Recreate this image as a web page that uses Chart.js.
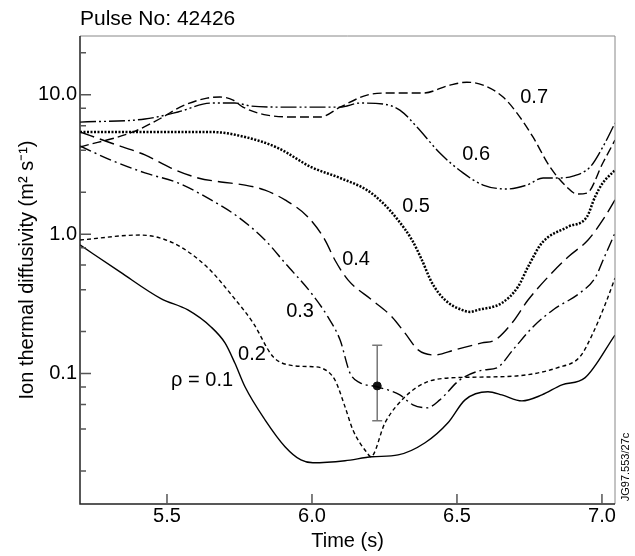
<!DOCTYPE html>
<html lang="en">
<head>
<meta charset="UTF-8">
<title>Ion thermal diffusivity - Pulse 42426</title>
<script src="https://cdn.jsdelivr.net/npm/chart.js"></script>
<style>
  body { margin: 0; background: #fff; }
  canvas { display: block; }
</style>
</head>
<body>
<canvas id="chiChart" width="635" height="556"></canvas>
<script>
// time (s) and chi_i (m^2/s), one pair of arrays per rho
var t01 = [5.200, 5.338, 5.479, 5.572, 5.652, 5.700, 5.734, 5.769, 5.838, 5.907, 5.962, 6.003, 6.114, 6.207, 6.297, 6.390, 6.469, 6.528, 6.607, 6.655, 6.724, 6.793, 6.862, 6.941, 7.045];
var c01 = [0.837, 0.536, 0.345, 0.286, 0.216, 0.166, 0.119, 0.0804, 0.0466, 0.0299, 0.0240, 0.0229, 0.0237, 0.0253, 0.0261, 0.0319, 0.0444, 0.0648, 0.0740, 0.0703, 0.0637, 0.0703, 0.0830, 0.0931, 0.189];

var t02 = [5.200, 5.407, 5.521, 5.638, 5.728, 5.797, 5.866, 5.924, 6.003, 6.031, 6.079, 6.114, 6.141, 6.190, 6.203, 6.252, 6.321, 6.390, 6.476, 6.614, 6.741, 6.845, 6.924, 6.969, 7.017, 7.045];
var c02 = [0.908, 0.986, 0.865, 0.582, 0.355, 0.231, 0.132, 0.115, 0.112, 0.110, 0.0901, 0.0577, 0.0395, 0.0270, 0.0253, 0.0444, 0.0681, 0.0859, 0.0931, 0.0946, 0.098, 0.110, 0.132, 0.195, 0.337, 0.485];

var t03 = [5.200, 5.307, 5.424, 5.538, 5.652, 5.745, 5.838, 5.907, 5.997, 6.055, 6.097, 6.131, 6.166, 6.224, 6.303, 6.348, 6.397, 6.441, 6.510, 6.590, 6.638, 6.693, 6.762, 6.831, 6.924, 6.976, 7.010, 7.045];
var c03 = [4.29, 3.40, 2.75, 2.33, 1.76, 1.33, 0.908, 0.621, 0.379, 0.255, 0.174, 0.101, 0.0859, 0.0804, 0.0703, 0.0597, 0.0568, 0.0648, 0.0901, 0.106, 0.110, 0.148, 0.216, 0.286, 0.379, 0.485, 0.698, 1.02];

var t04 = [5.200, 5.307, 5.424, 5.514, 5.607, 5.686, 5.769, 5.838, 5.907, 5.986, 6.045, 6.079, 6.124, 6.207, 6.276, 6.321, 6.366, 6.424, 6.493, 6.586, 6.631, 6.690, 6.745, 6.814, 6.883, 6.952, 7.010, 7.045];
var c04 = [5.41, 4.51, 3.70, 2.98, 2.53, 2.37, 2.25, 2.07, 1.76, 1.33, 0.908, 0.653, 0.470, 0.337, 0.255, 0.195, 0.148, 0.136, 0.148, 0.166, 0.174, 0.231, 0.337, 0.493, 0.686, 0.908, 1.33, 1.76];

var t05 = [5.200, 5.424, 5.652, 5.769, 5.883, 5.997, 6.097, 6.190, 6.245, 6.297, 6.345, 6.379, 6.414, 6.459, 6.517, 6.545, 6.572, 6.655, 6.710, 6.745, 6.793, 6.883, 6.948, 6.976, 7.003, 7.045];
var c05 = [5.41, 5.41, 5.41, 4.98, 4.15, 3.03, 2.53, 2.07, 1.67, 1.26, 0.908, 0.653, 0.447, 0.337, 0.286, 0.277, 0.286, 0.321, 0.418, 0.582, 0.865, 1.13, 1.33, 1.85, 2.33, 2.88];

var t06 = [5.200, 5.424, 5.538, 5.652, 5.734, 5.790, 5.883, 5.997, 6.097, 6.166, 6.245, 6.303, 6.362, 6.441, 6.521, 6.590, 6.672, 6.741, 6.797, 6.855, 6.900, 6.959, 7.003, 7.045];
var c06 = [6.37, 6.70, 7.52, 8.72, 8.72, 8.30, 8.16, 8.16, 8.16, 8.72, 8.58, 7.77, 5.87, 3.82, 2.75, 2.25, 2.11, 2.25, 2.53, 2.53, 2.61, 3.03, 4.22, 6.27];

var t07 = [5.200, 5.383, 5.486, 5.545, 5.638, 5.683, 5.728, 5.762, 5.845, 5.959, 6.028, 6.097, 6.190, 6.269, 6.383, 6.476, 6.534, 6.590, 6.659, 6.707, 6.762, 6.821, 6.879, 6.914, 6.948, 7.003, 7.045];
var c07 = [4.22, 5.41, 6.92, 8.16, 9.47, 9.63, 9.16, 8.16, 7.15, 6.92, 6.92, 8.16, 9.95, 10.29, 10.29, 11.74, 12.3, 11.74, 9.63, 7.39, 4.98, 3.03, 2.18, 1.94, 1.97, 3.24, 4.73];

// single measured point with error bar
var errT = [6.225];
var errMid = [0.0816];
var errLo = [0.0458];
var errHi = [0.16];

// curve labels
var labelText = ['\u03c1 = 0.1', '0.2', '0.3', '0.4', '0.5', '0.6', '0.7'];
var labelT = [5.621, 5.793, 5.959, 6.152, 6.359, 6.566, 6.766];
var labelChi = [0.0887, 0.136, 0.281, 0.653, 1.57, 3.76, 9.63];

// axis ticks
var xTicks = [5.5, 6.0, 6.5, 7.0];
var yTicks = [0.1, 1, 10];
var yMinor = [0.02, 0.04, 0.06, 0.08, 0.2, 0.4, 0.6, 0.8, 2, 4, 6, 8, 20];

var FONT = "'Liberation Sans', Arial, sans-serif";

function pts(ts, cs) {
    return ts.map(function (t, i) { return { x: t, y: cs[i] }; });
}

function curve(ts, cs, dash, width) {
    return {
        data: pts(ts, cs),
        borderColor: '#000',
        borderWidth: width || 1.4,
        borderDash: dash,
        pointRadius: 0,
        fill: false,
        cubicInterpolationMode: 'monotone'
    };
}

var extras = {
    id: 'extras',
    beforeDatasetsDraw: function (chart) {
        var ctx = chart.ctx, x = chart.scales.x, y = chart.scales.y;
        ctx.save();
        ctx.strokeStyle = '#777';
        ctx.lineWidth = 1.5;
        errT.forEach(function (t, i) {
            var px = x.getPixelForValue(t);
            var hi = y.getPixelForValue(errHi[i]);
            var lo = y.getPixelForValue(errLo[i]);
            ctx.beginPath();
            ctx.moveTo(px, hi); ctx.lineTo(px, lo);
            ctx.moveTo(px - 5, hi); ctx.lineTo(px + 5, hi);
            ctx.moveTo(px - 5, lo); ctx.lineTo(px + 5, lo);
            ctx.stroke();
        });
        ctx.restore();
    },
    afterDraw: function (chart) {
        var ctx = chart.ctx, a = chart.chartArea;
        var x = chart.scales.x, y = chart.scales.y;
        ctx.save();

        // frame
        ctx.lineWidth = 1;
        ctx.strokeStyle = '#888';
        ctx.beginPath();
        ctx.moveTo(a.left, a.top); ctx.lineTo(a.right, a.top); ctx.lineTo(a.right, a.bottom);
        ctx.stroke();
        ctx.lineWidth = 1.5;
        ctx.strokeStyle = '#222';
        ctx.beginPath();
        ctx.moveTo(a.left, a.top); ctx.lineTo(a.left, a.bottom); ctx.lineTo(a.right, a.bottom);
        ctx.stroke();

        // inward ticks
        ctx.strokeStyle = '#555';
        ctx.lineWidth = 1.5;
        ctx.beginPath();
        yTicks.forEach(function (v) {
            var py = y.getPixelForValue(v);
            ctx.moveTo(a.left, py); ctx.lineTo(a.left + 11, py);
        });
        yMinor.forEach(function (v) {
            var py = y.getPixelForValue(v);
            ctx.moveTo(a.left, py); ctx.lineTo(a.left + 6, py);
        });
        xTicks.forEach(function (v) {
            var px = x.getPixelForValue(v);
            ctx.moveTo(px, a.bottom); ctx.lineTo(px, a.bottom - 10);
        });
        ctx.stroke();

        // curve labels
        ctx.fillStyle = '#000';
        ctx.font = '20px ' + FONT;
        ctx.textAlign = 'center';
        ctx.textBaseline = 'middle';
        labelText.forEach(function (s, i) {
            ctx.fillText(s, x.getPixelForValue(labelT[i]), y.getPixelForValue(labelChi[i]));
        });

        // heading
        ctx.font = '21px ' + FONT;
        ctx.textAlign = 'left';
        ctx.textBaseline = 'alphabetic';
        ctx.fillText('Pulse No: 42426', a.left, 25);

        // figure code on the right
        ctx.font = '11px ' + FONT;
        ctx.translate(626, 467);
        ctx.rotate(-Math.PI / 2);
        ctx.textAlign = 'center';
        ctx.textBaseline = 'middle';
        ctx.fillText('JG97.553/27c', 0, 0);
        ctx.restore();
    }
};

var ctx = document.getElementById('chiChart').getContext('2d');
var chiChart = new Chart(ctx, {
    type: 'line',
    data: {
        datasets: [
            curve(t01, c01, []),
            curve(t02, c02, [4, 3]),
            curve(t03, c03, [12, 4, 2, 4]),
            curve(t04, c04, [15, 6]),
            curve(t05, c05, [2, 1.5], 2.5),
            curve(t06, c06, [16, 3, 2, 3, 2, 3]),
            curve(t07, c07, [9, 4]),
            {
                data: pts(errT, errMid),
                showLine: false,
                pointRadius: 4,
                pointBackgroundColor: '#111',
                pointBorderColor: '#111'
            }
        ]
    },
    options: {
        responsive: false,
        animation: false,
        layout: { padding: { top: 36, right: 20, left: 0, bottom: 0 } },
        plugins: { legend: { display: false }, tooltip: { enabled: false } },
        scales: {
            x: {
                type: 'linear',
                min: 5.2,
                max: 7.045,
                grid: { display: false, drawTicks: false },
                border: { display: false },
                afterBuildTicks: function (s) { s.ticks = xTicks.map(function (v) { return { value: v }; }); },
                afterFit: function (s) { s.height = 52; },
                ticks: {
                    padding: 0,
                    color: '#000',
                    font: { size: 20, family: FONT },
                    maxRotation: 0,
                    callback: function (v) { return Number(v).toFixed(1); }
                },
                title: {
                    display: true,
                    text: 'Time (s)',
                    color: '#000',
                    font: { size: 20, family: FONT },
                    padding: { top: 0, bottom: 3 }
                }
            },
            y: {
                type: 'logarithmic',
                min: 0.0116,
                max: 26.4,
                grid: { display: false, drawTicks: false },
                border: { display: false },
                afterBuildTicks: function (s) { s.ticks = yTicks.map(function (v) { return { value: v }; }); },
                afterFit: function (s) { s.width = 80; },
                ticks: {
                    padding: 3,
                    color: '#000',
                    font: { size: 20, family: FONT },
                    callback: function (v) { return Number(v).toFixed(1); }
                },
                title: {
                    display: true,
                    text: 'Ion thermal diffusivity (m\u00b2 s\u207b\u00b9)',
                    color: '#000',
                    font: { size: 20, family: FONT },
                    padding: { top: 15, bottom: 0 }
                }
            }
        }
    },
    plugins: [extras]
});
</script>
</body>
</html>
